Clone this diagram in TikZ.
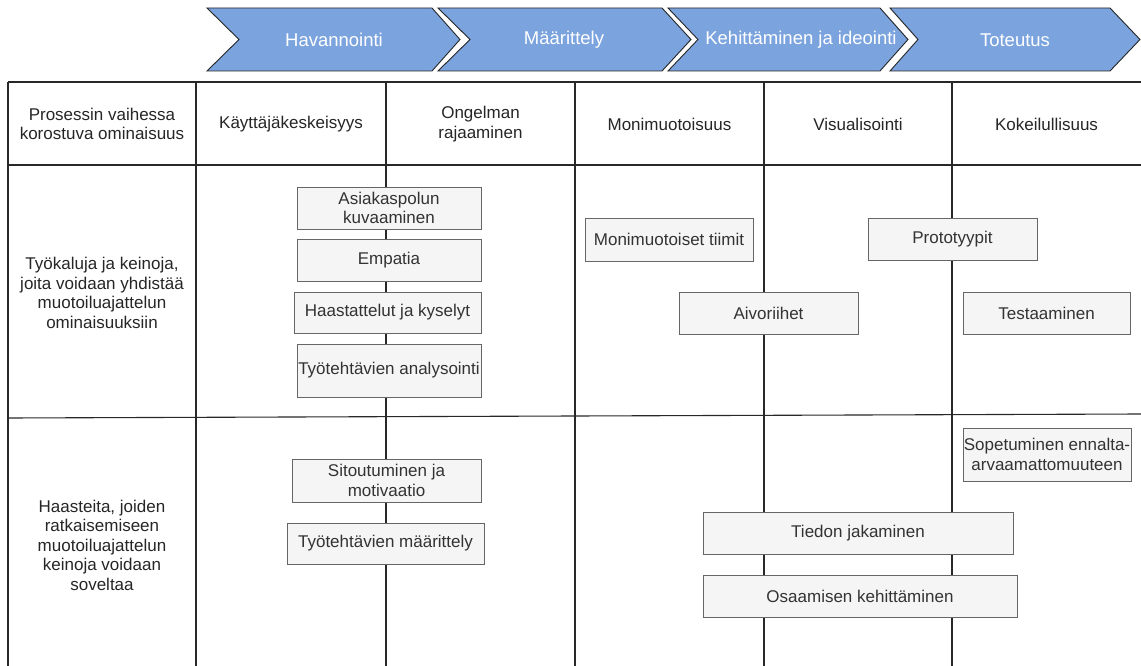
\documentclass[tikz,border=0pt]{standalone}
\usepackage{fontspec}
\setmainfont{Liberation Sans}
\definecolor{chevblue}{RGB}{123,163,222}
\definecolor{boxfill}{RGB}{245,245,245}
\definecolor{boxline}{RGB}{102,102,102}
\definecolor{boxtext}{RGB}{51,51,51}
\definecolor{gridline}{RGB}{40,40,40}
\begin{document}
\begin{tikzpicture}[x=1pt,y=-1pt,
  gridln/.style={draw=gridline,line width=1.1pt},
  chev/.style={fill=chevblue,draw=black!85,line width=0.9pt,line join=miter},
  chevtxt/.style={text=white,font=\fontsize{18.5}{21}\selectfont,inner sep=0pt},
  hdr/.style={text=black!85,font=\fontsize{17}{19.5}\selectfont,align=center,inner sep=0pt},
  box/.style={draw=boxline,fill=boxfill,line width=0.9pt,text=boxtext,
    font=\fontsize{17}{19.5}\selectfont,align=center,inner sep=0pt}]
\useasboundingbox (0,0) rectangle (1141,666);
\fill[white] (0,0) rectangle (1141,666);
% chevrons
\draw[chev] (207,8) -- (432,8) -- (460,39.5) -- (432,71) -- (207,71) -- (239,39.5) -- cycle;
\draw[chev] (438,8) -- (662,8) -- (691,39.5) -- (662,71) -- (438,71) -- (470,39.5) -- cycle;
\draw[chev] (668,8) -- (880,8) -- (908,39.5) -- (880,71) -- (668,71) -- (698,39.5) -- cycle;
\draw[chev] (890,8) -- (1110,8) -- (1140,39.5) -- (1110,71) -- (890,71) -- (918,39.5) -- cycle;
\node[chevtxt] (p1) at (334,40) {Havannointi};
\node[chevtxt] (p2) at (564,40) {Määrittely};
\node[chevtxt] (p3) at (801,40) {Kehittäminen ja ideointi};
\node[chevtxt] (p4) at (1015,40) {Toteutus};
% grid
\draw[gridln] (8,82) -- (1141,82);
\draw[gridln] (8,165) -- (1141,165);
\draw[gridln] (8,418) -- (1141,414);
\foreach \xx in {8,196,386,575,764,952}
  \draw[gridln] (\xx,82) -- (\xx,666);
% header texts
\node[hdr] (h0) at (102,124) {Prosessin vaihessa\\korostuva ominaisuus};
\node[hdr] (h1) at (291,124) {Käyttäjäkeskeisyys};
\node[hdr] (h2) at (480.5,124) {Ongelman\\rajaaminen};
\node[hdr] (h3) at (669.5,124) {Monimuotoisuus};
\node[hdr] (h4) at (858,124) {Visualisointi};
\node[hdr] (h5) at (1046.5,124) {Kokeilullisuus};
\node[hdr] (r1) at (102,293) {Työkaluja ja keinoja,\\joita voidaan yhdistää\\muotoiluajattelun\\ominaisuuksiin};
\node[hdr] (r2) at (102,545) {Haasteita, joiden\\ratkaisemiseen\\muotoiluajattelun\\keinoja voidaan\\soveltaa};
% boxes row 1
\node[box,minimum width=184pt,minimum height=42pt] (a1) at (389,208) {Asiakaspolun\\kuvaaminen};
\node[box,minimum width=184pt,minimum height=42pt] (a2) at (389,260) {Empatia};
\node[box,minimum width=187pt,minimum height=41pt] (a3) at (387.5,312.5) {Haastattelut ja kyselyt};
\node[box,minimum width=184pt,minimum height=53pt] (a4) at (389,370.5) {Työtehtävien analysointi};
\node[box,minimum width=168pt,minimum height=43pt] (b1) at (669,239.5) {Monimuotoiset tiimit};
\node[box,minimum width=169pt,minimum height=42pt] (b2) at (952.5,239) {Prototyypit};
\node[box,minimum width=179pt,minimum height=42pt] (b3) at (768.5,313) {Aivoriihet};
\node[box,minimum width=167pt,minimum height=42pt] (b4) at (1046.5,313) {Testaaminen};
% boxes row 2
\node[box,minimum width=168pt,minimum height=53pt] (c1) at (1047,454.5) {Sopetuminen ennalta-\\arvaamattomuuteen};
\node[box,minimum width=189pt,minimum height=43pt] (c2) at (386.5,480.5) {Sitoutuminen ja\\motivaatio};
\node[box,minimum width=197pt,minimum height=41pt] (c3) at (385.5,543.5) {Työtehtävien määrittely};
\node[box,minimum width=310pt,minimum height=42pt] (c4) at (858,533) {Tiedon jakaminen};
\node[box,minimum width=314pt,minimum height=42pt] (c5) at (860,596) {Osaamisen kehittäminen};
\end{tikzpicture}
\end{document}
